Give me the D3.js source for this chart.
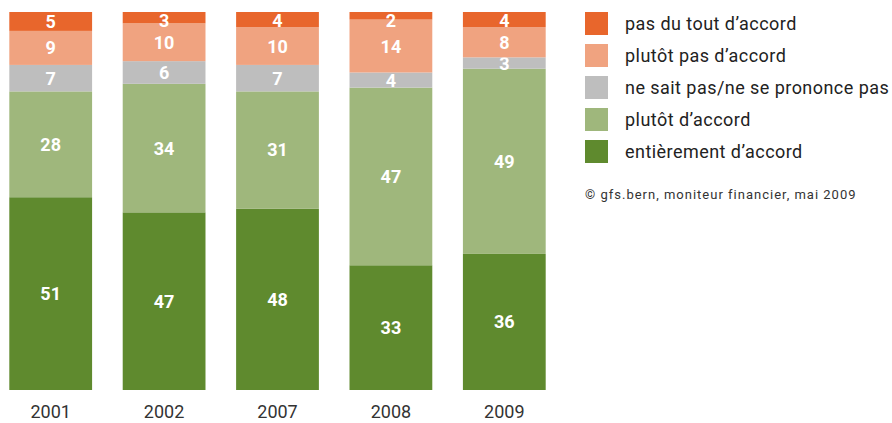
<!DOCTYPE html>
<html>
<head>
<meta charset="utf-8">
<script src="https://cdn.jsdelivr.net/npm/d3@7"></script>
<style>
  body { margin: 0; background: #fff; }
  text { font-family: Roboto, "DejaVu Sans", sans-serif; }
</style>
</head>
<body>
<div id="chart"></div>
<script>
// data
var years = ["2001", "2002", "2007", "2008", "2009"];
var categories = ["entièrement d’accord", "plutôt d’accord", "ne sait pas/ne se prononce pas", "plutôt pas d’accord", "pas du tout d’accord"];
var entierement = [51, 47, 48, 33, 36];
var plutot = [28, 34, 31, 47, 49];
var nsp = [7, 6, 7, 4, 3];
var plutotPas = [9, 10, 10, 14, 8];
var pasDuTout = [5, 3, 4, 2, 4];
var colors = ["#5f8a2e", "#9fb77c", "#bebebe", "#f0a380", "#e8662c"];
var source = "© gfs.bern, moniteur financier, mai 2009";

var w = 892, h = 423;

var series = [entierement, plutot, nsp, plutotPas, pasDuTout];
var rows = years.map(function(yr, i){
    var r = { year: yr };
    categories.forEach(function(c, k){ r[c] = series[k][i]; });
    return r;
});

var stack = d3.stack().keys(categories);
var layers = stack(rows);

// scales
var x = d3.scaleBand()
    .domain(years)
    .range([-6, 561])
    .paddingInner(0.27)
    .paddingOuter(0.135);

var y = d3.scaleLinear()
    .domain([0, 100])
    .range([390, 12]);

var svg = d3.select("#chart")
  .append("svg")
  .attr("width", w)
  .attr("height", h);

// bars
var g = svg.selectAll("g.layer")
    .data(layers)
    .enter()
    .append("g")
    .attr("class", "layer")
    .attr("fill", function(d, i){ return colors[i]; });

g.selectAll("rect")
    .data(function(d){ return d; })
    .enter()
    .append("rect")
    .attr("x", function(d){ return x(d.data.year); })
    .attr("y", function(d){ return y(d[1]); })
    .attr("width", x.bandwidth())
    .attr("height", function(d){ return y(d[0]) - y(d[1]); });

// value labels
g.selectAll("text")
    .data(function(d){ return d; })
    .enter()
    .append("text")
    .attr("x", function(d){ return x(d.data.year) + x.bandwidth()/2; })
    .attr("y", function(d){
        var c = (y(d[0]) + y(d[1]))/2;
        return Math.max(c, y(100) + 9);
    })
    .attr("dy", "0.36em")
    .attr("text-anchor", "middle")
    .attr("fill", "#fff")
    .attr("font-weight", "bold")
    .attr("font-size", 18)
    .text(function(d){ return d[1] - d[0]; });

// x axis labels
svg.append("g")
    .selectAll("text")
    .data(years)
    .enter()
    .append("text")
    .attr("x", function(d){ return x(d) + x.bandwidth()/2; })
    .attr("y", 418)
    .attr("text-anchor", "middle")
    .attr("fill", "#333")
    .attr("font-size", 18)
    .text(function(d){ return d; });

// legend (top = pas du tout)
var legendItems = categories.slice().reverse();
var legendColors = colors.slice().reverse();
var legend = svg.append("g")
    .attr("transform", "translate(585,12)");

var item = legend.selectAll("g")
    .data(legendItems)
    .enter()
    .append("g")
    .attr("transform", function(d, i){ return "translate(0," + (i*32) + ")"; });

item.append("rect")
    .attr("width", 23)
    .attr("height", 23)
    .attr("fill", function(d, i){ return legendColors[i]; });

item.append("text")
    .attr("x", 40)
    .attr("y", 12)
    .attr("dy", "0.36em")
    .attr("fill", "#222")
    .attr("font-size", 18)
    .attr("letter-spacing", 0.45)
    .text(function(d){ return d; });

legend.append("text")
    .attr("x", 0)
    .attr("y", 187)
    .attr("fill", "#333")
    .attr("font-size", 13)
    .attr("letter-spacing", 1)
    .text(source);
</script>
</body>
</html>
